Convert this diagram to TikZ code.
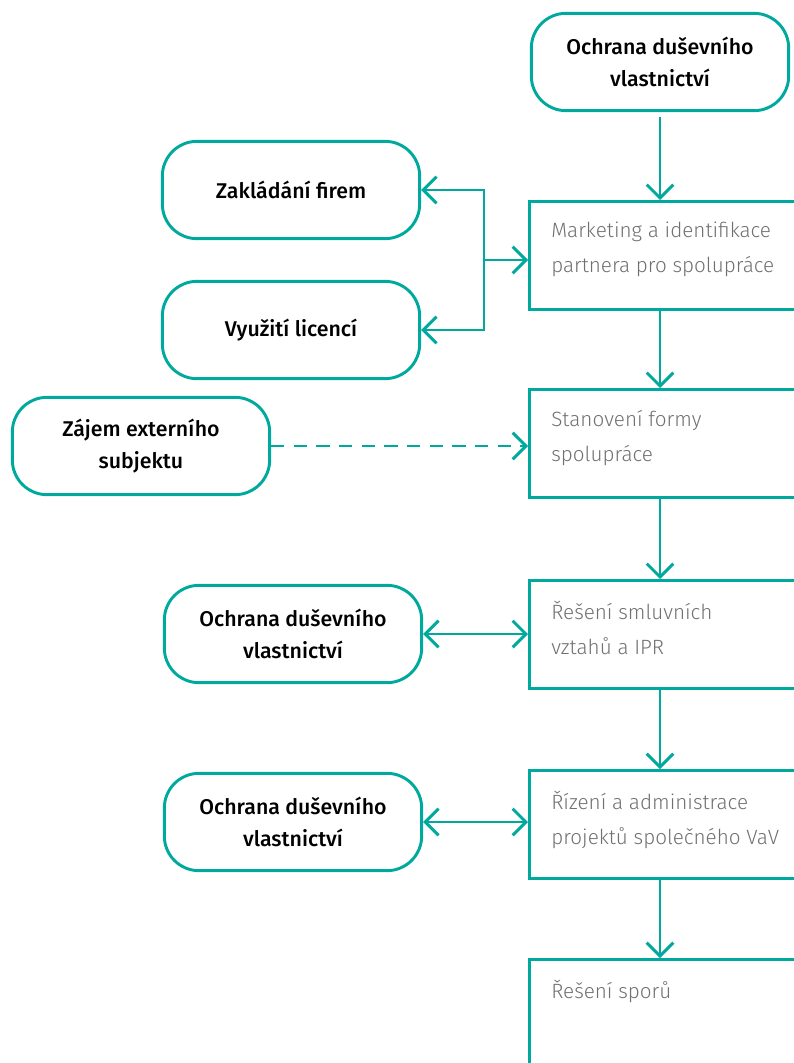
\documentclass[tikz,border=0pt]{standalone}
\usepackage{fontspec}
\setmainfont{Fira Sans}
\newfontfamily\lightfont{Fira Sans Light}
\newfontfamily\medfont{Fira Sans Medium}
\usetikzlibrary{arrows.meta}
\definecolor{ipteal}{HTML}{00A99D}
\definecolor{textgray}{HTML}{707070}
\tikzset{barb/.tip={Straight Barb[length=10pt, width=20pt]}}

\begin{document}
\begin{tikzpicture}[x=0.75pt, y=-0.75pt,
    oval/.style={draw=ipteal, line width=2.2pt, rounded corners=26pt,
      minimum width=193pt, minimum height=73pt, align=center,
      font=\medfont\fontsize{16}{24}\selectfont},
    stage/.style={draw=ipteal, line width=2.2pt, minimum width=204pt,
      minimum height=81pt, anchor=north west, inner sep=0pt},
    stagetext/.style={anchor=north west, align=left, inner sep=0pt,
      text=textgray, font=\lightfont\fontsize{15.5}{26}\selectfont},
    link/.style={draw=ipteal, line width=2.2pt, -barb},
    twoway/.style={link, barb-barb}]
    \useasboundingbox (0,0) rectangle (793,1063);

    % Rounded boxes
    \node[oval] (top) at (660,62) {Ochrana duševního\\vlastnictví};
    \node[oval] (zf) at (291,190) {Zakládání firem};
    \node[oval] (vl) at (291,330) {Využití licencí};
    \node[oval] (ze) at (141,446) {Zájem externího\\subjektu};
    \node[oval] (ip1) at (293,634) {Ochrana duševního\\vlastnictví};
    \node[oval] (ip2) at (293,822) {Ochrana duševního\\vlastnictví};

    % Main stages
    \foreach \y/\n/\t in {200/m1/{Marketing a identifikace\\partnera pro spolupráce},
        388/m2/{Stanovení formy\\spolupráce},
        579/m3/{Řešení smluvních\\vztahů a IPR},
        769/m4/{Řízení a administrace\\projektů společného VaV},
        958/m5/{Řešení sporů}} {
      \node[stage] (\n) at (528,\y) {};
      \node[stagetext] (\n-txt) at ([shift={(23,22)}]\n.north west) {\t};
    }

    % Connectors
    \draw[link, shorten <=4pt] (top) -- (top |- m1.north);
    \foreach \a/\b in {m1/m2, m2/m3, m3/m4, m4/m5}
      \draw[link] (\a.south -| top) -- (\b.north -| top);
    \coordinate (fork) at (484,260);
    \draw[link] (fork) -- (fork -| m1.west);
    \draw[link] (fork) |- (zf.east);
    \draw[link] (fork) |- (vl.east);
    \draw[link, dash pattern=on 10pt off 7pt] (ze.east) -- (ze.east -| m2.west);
    \draw[twoway] (ip1.east) -- (ip1.east -| m3.west);
    \draw[twoway] (ip2.east) -- (ip2.east -| m4.west);
\end{tikzpicture}
\end{document}
